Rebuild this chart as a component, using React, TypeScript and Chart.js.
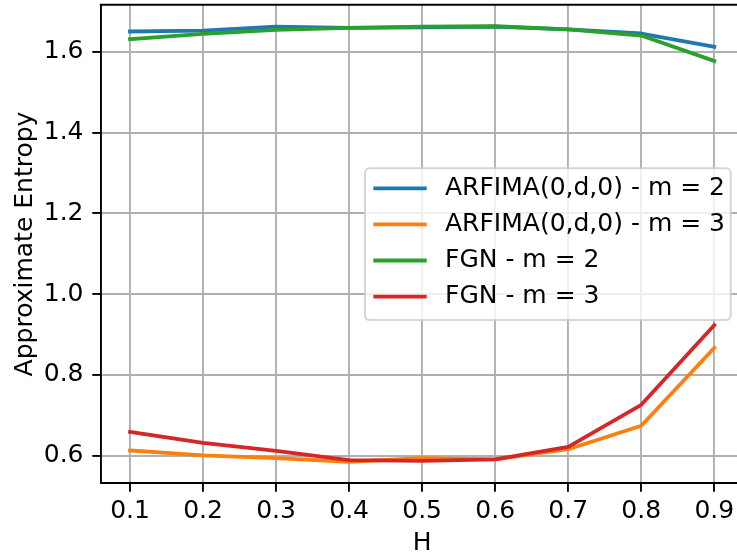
import React, { useEffect, useRef } from "react";
import { Chart, registerables } from "chart.js";

Chart.register(...registerables);

const H = [0.1, 0.2, 0.3, 0.4, 0.5, 0.6, 0.7, 0.8, 0.9];
const arfimaM2 = [1.650, 1.652, 1.662, 1.659, 1.660, 1.662, 1.655, 1.645, 1.612];
const arfimaM3 = [0.613, 0.601, 0.594, 0.585, 0.594, 0.591, 0.616, 0.674, 0.867];
const fgnM2 = [1.631, 1.644, 1.654, 1.659, 1.662, 1.663, 1.655, 1.640, 1.577];
const fgnM3 = [0.659, 0.632, 0.612, 0.589, 0.587, 0.591, 0.622, 0.726, 0.923];
const yTicks = [0.6, 0.8, 1.0, 1.2, 1.4, 1.6];
const seriesLabels = [
  "ARFIMA(0,d,0) - m = 2",
  "ARFIMA(0,d,0) - m = 3",
  "FGN - m = 2",
  "FGN - m = 3",
];
const seriesColors = ["#1f77b4", "#ff7f0e", "#2ca02c", "#d62728"];
const seriesValues = [arfimaM2, arfimaM3, fgnM2, fgnM3];

const FONT = "'DejaVu Sans', sans-serif";
const FS = 25;
const LW = 3.8;

const frameAndLegend = {
  id: "frameAndLegend",
  afterDraw(chart: any) {
    const { ctx, chartArea } = chart;
    ctx.save();
    // top spine
    ctx.strokeStyle = "#000";
    ctx.lineWidth = 1.9;
    ctx.beginPath();
    ctx.moveTo(chartArea.left - 0.95, chartArea.top);
    ctx.lineTo(chartArea.right + 0.95, chartArea.top);
    ctx.stroke();

    // legend
    const bx = 365, by = 168.3, bw = 365.7, bh = 151.7, r = 4.5;
    ctx.beginPath();
    ctx.moveTo(bx + r, by);
    ctx.lineTo(bx + bw - r, by);
    ctx.arcTo(bx + bw, by, bx + bw, by + r, r);
    ctx.lineTo(bx + bw, by + bh - r);
    ctx.arcTo(bx + bw, by + bh, bx + bw - r, by + bh, r);
    ctx.lineTo(bx + r, by + bh);
    ctx.arcTo(bx, by + bh, bx, by + bh - r, r);
    ctx.lineTo(bx, by + r);
    ctx.arcTo(bx, by, bx + r, by, r);
    ctx.closePath();
    ctx.fillStyle = "rgba(255,255,255,0.8)";
    ctx.fill();
    ctx.strokeStyle = "rgba(204,204,204,0.8)";
    ctx.lineWidth = 2;
    ctx.stroke();

    ctx.font = `${FS}px ${FONT}`;
    ctx.textBaseline = "middle";
    ctx.textAlign = "left";
    seriesLabels.forEach((lab, i) => {
      const y = 188.3 + i * 36.1;
      ctx.strokeStyle = seriesColors[i];
      ctx.lineWidth = LW;
      ctx.beginPath();
      ctx.moveTo(373.3, y);
      ctx.lineTo(426.7, y);
      ctx.stroke();
      ctx.fillStyle = "#000";
      ctx.fillText(lab, 445, y);
    });
    ctx.restore();
  },
};

export default function App() {
  const ref = useRef<HTMLCanvasElement>(null);
  useEffect(() => {
    if (!ref.current) return;
    const chart = new Chart(ref.current, {
      type: "line",
      data: {
        datasets: seriesValues.map((vals, i) => ({
          label: seriesLabels[i],
          data: H.map((h, j) => ({ x: h, y: vals[j] })),
          borderColor: seriesColors[i],
          backgroundColor: seriesColors[i],
          borderWidth: LW,
          pointRadius: 0,
          tension: 0,
          fill: false,
          borderJoinStyle: "round",
          borderCapStyle: "square",
          order: 4 - i,
        })),
      },
      options: {
        animation: false,
        responsive: false,
        devicePixelRatio: 1,
        layout: { padding: { left: 0, top: 4.7, right: 760 - 743.5, bottom: 0 } },
        plugins: { legend: { display: false }, tooltip: { enabled: false } },
        scales: {
          x: {
            type: "linear",
            min: 0.06,
            max: 0.94,
            afterBuildTicks: (s: any) => {
              s.ticks = H.map((v) => ({ value: v }));
            },
            afterFit: (s: any) => {
              s.height = 558 - 483.3;
              s.paddingLeft = 0;
              s.paddingRight = 0;
              s.paddingTop = 0;
              s.paddingBottom = 0;
            },
            ticks: {
              color: "#000",
              font: { family: FONT, size: FS },
              padding: 5,
              maxRotation: 0,
              autoSkip: false,
              callback: (v: any) => Number(v).toFixed(1),
            },
            grid: {
              color: "#b0b0b0",
              lineWidth: 1.9,
              tickColor: "#000",
              tickLength: 8.5,
              tickWidth: 1.9,
            },
            border: { color: "#000", width: 1.9 },
            title: {
              display: true,
              text: "H",
              color: "#000",
              font: { family: FONT, size: FS },
              padding: { top: 0, bottom: 0 },
            },
          },
          y: {
            type: "linear",
            min: 0.5317,
            max: 1.7163,
            afterBuildTicks: (s: any) => {
              s.ticks = yTicks.map((v) => ({ value: v }));
            },
            afterFit: (s: any) => {
              s.width = 100.8;
              s.paddingLeft = 0;
              s.paddingRight = 0;
              s.paddingTop = 0;
              s.paddingBottom = 0;
            },
            ticks: {
              color: "#000",
              font: { family: FONT, size: FS },
              padding: 8.8,
              autoSkip: false,
              callback: (v: any) => Number(v).toFixed(1),
            },
            grid: {
              color: "#b0b0b0",
              lineWidth: 1.9,
              tickColor: "#000",
              tickLength: 8.5,
              tickWidth: 1.9,
            },
            border: { color: "#000", width: 1.9 },
            title: {
              display: true,
              text: "Approximate Entropy",
              color: "#000",
              font: { family: FONT, size: FS },
              padding: { top: 10.3, bottom: 0 },
            },
          },
        },
      },
      plugins: [frameAndLegend],
    });
    return () => chart.destroy();
  }, []);
  return (
    <div
      style={{
        position: "fixed",
        left: 0,
        top: 0,
        width: 737,
        height: 558,
        overflow: "hidden",
        background: "#fff",
      }}
    >
      <canvas ref={ref} width={760} height={558} style={{ display: "block" }} />
    </div>
  );
}
